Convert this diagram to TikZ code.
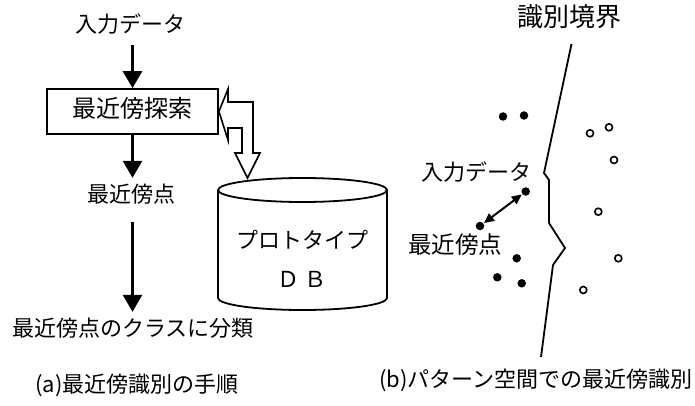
\documentclass[tikz,border=0pt]{standalone}
\usepackage{fontspec}
\setmainfont{Noto Sans CJK JP}
\usetikzlibrary{arrows.meta}
\begin{document}
\begin{tikzpicture}[x=1pt,y=-1pt,
  lbl/.style={inner sep=0pt,text height=16pt,text depth=4pt,font=\fontsize{22}{26}\selectfont},
  blk/.style={line width=3pt,-{Triangle[width=19pt,length=17pt]}},
  dot/.style={circle,fill=black,inner sep=0pt,minimum size=8.5pt},
  odot/.style={circle,draw=black,line width=1.6pt,fill=white,inner sep=0pt,minimum size=7pt}]
\useasboundingbox (0,0) rectangle (695,406);
% (a) flow
\node[lbl] (in1) at (130,27) {入力データ};
\node[lbl,draw,line width=1.8pt,minimum width=171pt,minimum height=45pt,font=\fontsize{24}{28}\selectfont] (search) at (132.5,111.5) {最近傍探索};
\node[lbl] (near1) at (131,196) {最近傍点};
\node[lbl] (cls) at (133,330) {最近傍点のクラスに分類};
\node[lbl] (capa) at (137,386) {(a)最近傍識別の手順};
\draw[blk,shorten <=8pt] (in1.south -| search.north) -- (search.north);
\draw[blk,shorten >=8pt] (search.south) -- (search.south |- near1.north);
\draw[blk,shorten <=16pt,shorten >=8pt] (near1.south -| search.south) -- (search.south |- cls.north);
% cylinder DB
\draw[line width=1.8pt,fill=white] (218,190) -- (218,298) arc[start angle=180,end angle=0,x radius=84.5,y radius=12] -- (387,190);
\draw[line width=1.8pt] (302.5,190) ellipse[x radius=84.5,y radius=12];
\coordinate (dbtop) at (247.5,178);
\node[lbl] (db1) at (302,242) {プロトタイプ};
\node[lbl] (db2) at (302,281) {Ｄ Ｂ};
% hollow bent double arrow
\draw[line width=1.6pt,fill=white,line join=miter]
  (search.east) -- (228,89) -- (228,102) -- (253,102) -- (253,153) -- (260,153)
  -- (dbtop) -- (235,153) -- (242,153) -- (242,128) -- (228,128) -- (228,140) -- cycle;
% (b) pattern space
\node[lbl,font=\fontsize{26}{30}\selectfont] (bnd) at (569,21) {識別境界};
\coordinate (b0) at (571.5,44);
\coordinate (b6) at (541,357);
\draw[line width=1.8pt,line join=miter] (b0) -- (544,173) -- (549,180) -- (549,223) -- (565,248) -- (553,265) -- (b6);
\node[dot] (f1) at (503,116.5) {};
\node[dot] (f2) at (524,115.5) {};
\node[dot] (inp) at (525.7,191.5) {};
\node[dot] (nn) at (480,226) {};
\node[dot] (f3) at (516.7,258.3) {};
\node[dot] (f4) at (497.3,277.3) {};
\node[dot] (f5) at (521.7,283.3) {};
\node[odot] (o1) at (590,133.3) {};
\node[odot] (o2) at (609,127.3) {};
\node[odot] (o3) at (614,160) {};
\node[odot] (o4) at (598.3,211.7) {};
\node[odot] (o5) at (618.3,258.3) {};
\node[odot] (o6) at (583.3,290) {};
\draw[line width=2pt,{Triangle[width=9pt,length=10pt]}-{Triangle[width=9pt,length=10pt]},shorten <=0.5pt,shorten >=0.5pt] (inp) -- (nn);
\node[lbl] (inlbl) at (476,174) {入力データ};
\node[lbl,font=\fontsize{23.5}{28}\selectfont] (nnlbl) at (455,247) {最近傍点};
\node[lbl] (capb) at (536,381) {(b)パターン空間での最近傍識別};
\end{tikzpicture}
\end{document}
